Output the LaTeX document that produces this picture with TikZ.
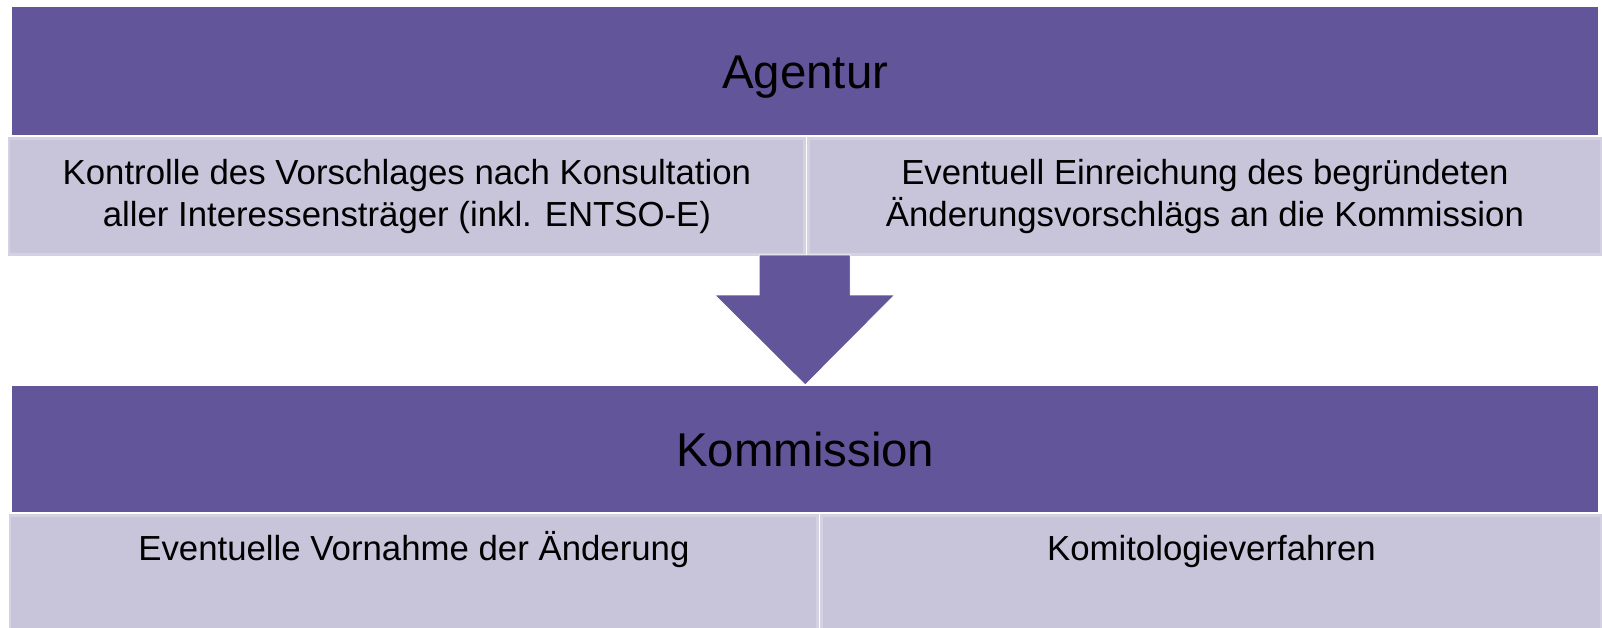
\documentclass[tikz,border=0pt]{standalone}
\usepackage{fontspec}
\setmainfont{Liberation Sans}
\usetikzlibrary{positioning,calc}
\definecolor{klila}{HTML}{62559A}
\definecolor{khell}{HTML}{C8C5DA}
\definecolor{krand}{HTML}{D3D1E2}
\tikzset{
  kopf/.style={fill=klila,draw=none,anchor=north west,inner sep=0pt,minimum width=31.72cm,text height=19.3pt,text depth=0pt,font=\fontsize{27}{31}\selectfont},
  feld/.style={fill=khell,draw=krand,line width=0.06cm,anchor=north west,inner sep=0pt,align=center,font=\fontsize{19.8}{23.6}\selectfont},
  unten/.style={feld,text height=0.91cm,text depth=1.62cm},
  pfeil/.style={fill=klila,draw=white,line width=0.5pt},
}
\begin{document}
\begin{tikzpicture}[x=0.02cm,y=-0.02cm]
  \useasboundingbox (0,0) rectangle (1602,627);
  % Agentur
  \node[kopf,minimum height=2.56cm] (agentur) at (12,7) {Agentur};
  \node[feld,minimum width=15.92cm,minimum height=2.34cm] (kontrolle) at (7.5,136.5)
    {Kontrolle des Vorschlages nach Konsultation\\aller Interessensträger (inkl. ENTSO-E)};
  \node[feld,minimum width=15.88cm,minimum height=2.34cm] (einreichung) at (806.5,136.5)
    {Eventuell Einreichung des begründeten\\Änderungsvorschlägs an die Kommission};
  % Kommission
  \node[kopf,minimum height=2.52cm] (kommission) at (12,386) {Kommission};
  \node[unten,minimum width=16.16cm] (vornahme) at (8.5,513.5) {Eventuelle Vornahme der Änderung};
  \node[unten,minimum width=15.62cm] (komitologie) at (819.5,513.5) {Komitologieverfahren};
  % Pfeil
  \path (kommission.north) ++(0,-1) coordinate (spitze);
  \fill[pfeil] (spitze) -- ++(89.5,-90) -- ++(-44.5,0) -- ++(0,-40) -- ++(-91,0)
    -- ++(0,40) -- ++(-44.5,0) -- cycle;
\end{tikzpicture}
\end{document}
